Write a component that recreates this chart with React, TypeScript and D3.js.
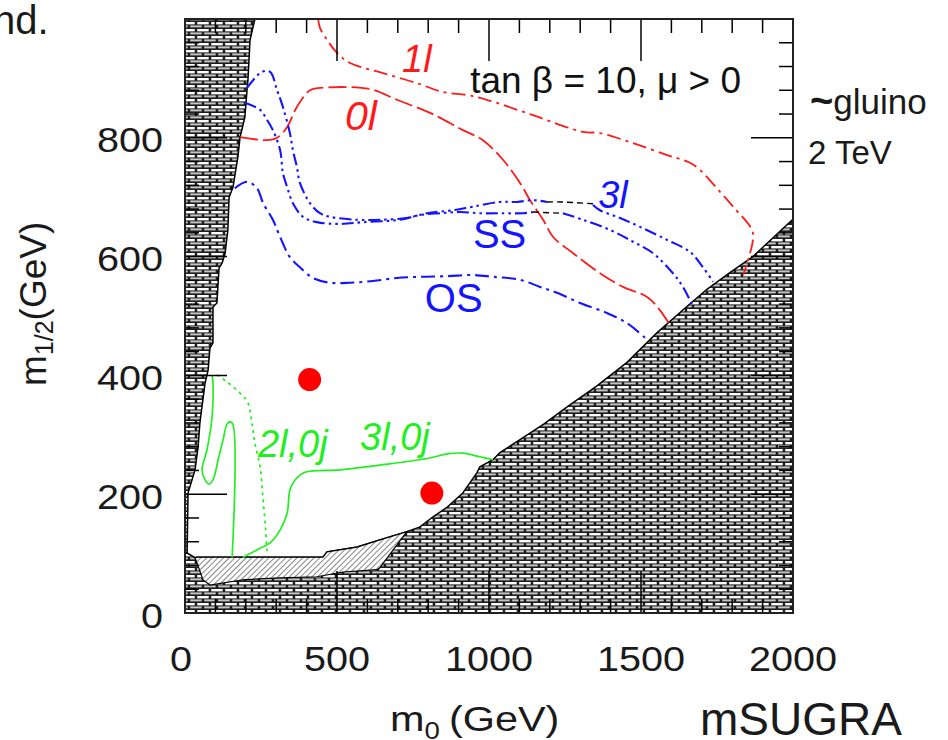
import React, { useEffect, useRef } from 'react';
import * as d3 from 'd3';

type Pt = [number, number];

// all values in GeV: [m0, m1/2]

// theoretically excluded (left strip)
const leftExcluded: Pt[] = [
  [0, 1000], [230, 1000], [214, 965], [207, 897], [204, 880], [197, 835], [181, 801],
  [174, 768], [158, 717], [145, 700], [141, 645], [132, 606], [122, 589], [112, 581],
  [105, 522], [92, 515], [92, 455], [82, 446], [76, 409], [66, 387], [49, 320],
  [43, 279], [33, 241], [10, 202], [7, 101], [0, 101],
];

// charged LSP region (bottom right) + low m1/2 band
const bottomExcluded: Pt[] = [
  [0, 0], [0, 101], [7, 101], [33, 93], [39, 94], [454, 94], [467, 103], [566, 111],
  [641, 123], [730, 137], [773, 145], [816, 162], [862, 178], [914, 202], [960, 236],
  [970, 246], [1013, 258], [1036, 270], [1102, 292], [1180, 318], [1257, 347],
  [1354, 382], [1454, 422], [1553, 472], [1651, 516], [1717, 545], [1790, 572],
  [1868, 600], [2000, 663], [2000, 0],
];

// LEP limit (diagonal hatch)
const lepHatch: Pt[] = [
  [33, 93], [39, 94], [454, 94], [467, 103], [566, 111], [641, 123], [730, 137],
  [684, 106], [641, 76], [632, 73], [520, 69], [434, 61], [313, 59], [191, 56],
  [82, 47], [59, 56], [43, 79],
];

// reach contours
const red1l: Pt[] = [
  [438, 1000], [444, 985], [467, 965], [500, 943], [543, 926], [651, 909], [763, 892],
  [849, 877], [928, 872], [993, 864], [1145, 838], [1309, 810], [1365, 808], [1474, 791],
  [1586, 771], [1661, 758], [1694, 746], [1760, 709], [1803, 684], [1865, 645],
  [1868, 628], [1849, 589], [1836, 569],
];

const red0l: Pt[] = [
  [181, 801], [270, 796], [303, 800], [336, 818], [368, 852], [411, 880], [444, 884],
  [609, 882], [697, 864], [806, 842], [914, 813], [980, 796], [1046, 763], [1102, 724],
  [1135, 695], [1178, 662], [1211, 633], [1276, 606], [1365, 572], [1441, 549],
  [1520, 532], [1562, 510], [1595, 485],
];

const blue3lA: Pt[] = [
  [204, 884], [253, 911], [280, 911], [303, 880], [322, 852], [345, 808], [355, 779],
  [368, 751], [378, 724], [411, 690], [444, 673], [477, 667], [566, 662], [641, 662],
  [730, 665], [796, 673], [882, 678], [947, 684], [1036, 692], [1092, 692], [1145, 695],
  [1191, 692],
];
const black3l: Pt[] = [[1191, 692], [1234, 692], [1342, 689]];
const blue3lB: Pt[] = [
  [1342, 687], [1365, 678], [1431, 665], [1497, 650], [1586, 628], [1661, 608],
  [1704, 582], [1737, 558],
];

const blueSSA: Pt[] = [
  [197, 859], [247, 847], [270, 830], [289, 813], [313, 779], [322, 741], [336, 717],
  [355, 690], [388, 667], [434, 658], [510, 655], [586, 658], [707, 662], [773, 670],
  [839, 673], [905, 675], [970, 673], [1036, 673], [1112, 673], [1145, 675],
];
const blackSS: Pt[] = [[1145, 675], [1243, 673]];
const blueSSB: Pt[] = [
  [1243, 673], [1309, 662], [1398, 645], [1474, 625], [1539, 606], [1605, 572],
  [1638, 549], [1668, 519],
];

const blueOS: Pt[] = [
  [164, 715], [204, 726], [237, 715], [257, 690], [289, 662], [313, 633], [345, 599],
  [378, 582], [421, 564], [477, 556], [543, 556], [618, 559], [697, 564], [773, 566],
  [862, 567], [947, 569], [1013, 566], [1102, 561], [1168, 549], [1224, 539],
  [1299, 522], [1388, 505], [1454, 488], [1520, 460],
];

const greenLeft: Pt[] = [
  [89, 401], [92, 387], [89, 330], [72, 274], [56, 241], [66, 224], [79, 217],
  [92, 224], [109, 258], [125, 291], [141, 320], [155, 320], [155, 94],
];
const green2l0j: Pt[] = [
  [105, 401], [138, 389], [181, 370], [207, 354], [220, 320], [230, 286], [247, 246],
  [257, 190], [266, 135], [270, 101],
];
const green3l0j: Pt[] = [
  [191, 94], [247, 109], [280, 118], [313, 140], [336, 168], [345, 207], [362, 224],
  [395, 237], [510, 241], [641, 249], [806, 261], [862, 268], [914, 269], [970, 263],
  [1013, 258],
];

const benchmarkPoints: Pt[] = [[410, 393], [812, 202]];

const xTickValues = [0, 500, 1000, 1500, 2000];
const yTickValues = [0, 200, 400, 600, 800];

const FONT = '"Liberation Sans", Arial, Helvetica, sans-serif';

const App = () => {
  const svgRef = useRef<SVGSVGElement | null>(null);

  const width = 948;
  const height = 740;
  const frame = { left: 185, right: 793, top: 19, bottom: 613 };

  useEffect(() => {
    if (!svgRef.current) return;
    const svg = d3.select(svgRef.current);
    svg.selectAll('*').remove();

    const x = d3.scaleLinear().domain([0, 2000]).range([frame.left, frame.right]);
    const y = d3.scaleLinear().domain([0, 1000]).range([frame.bottom, frame.top]);

    const defs = svg.append('defs');

    // brick texture of the excluded regions
    const brick = defs.append('pattern')
      .attr('id', 'brick')
      .attr('patternUnits', 'userSpaceOnUse')
      .attr('width', 14)
      .attr('height', 7);
    brick.append('rect').attr('width', 14).attr('height', 7).attr('fill', '#1c1c1c');
    brick.append('rect').attr('x', 1.2).attr('y', 1).attr('width', 11.5).attr('height', 2.4).attr('fill', '#ffffff');
    brick.append('rect').attr('x', -5.8).attr('y', 4.4).attr('width', 11.5).attr('height', 2).attr('fill', '#c4c4c4');
    brick.append('rect').attr('x', 8.2).attr('y', 4.4).attr('width', 11.5).attr('height', 2).attr('fill', '#c4c4c4');

    const hatch = defs.append('pattern')
      .attr('id', 'hatch')
      .attr('patternUnits', 'userSpaceOnUse')
      .attr('width', 4)
      .attr('height', 4)
      .attr('patternTransform', 'rotate(45)');
    hatch.append('rect').attr('width', 4).attr('height', 4).attr('fill', '#fff');
    hatch.append('line').attr('x1', 0).attr('y1', 0).attr('x2', 0).attr('y2', 4)
      .attr('stroke', '#222').attr('stroke-width', 1.1);

    defs.append('clipPath').attr('id', 'topclip')
      .append('rect').attr('x', 130).attr('y', 8).attr('width', 50).attr('height', 12);

    svg.append('rect').attr('width', width).attr('height', height).attr('fill', '#fff');

    const area = d3.line<Pt>().x(d => x(d[0])).y(d => y(d[1]));
    const curve = d3.line<Pt>().x(d => x(d[0])).y(d => y(d[1])).curve(d3.curveCatmullRom.alpha(0.5));

    const g = svg.append('g');

    // excluded regions
    g.append('path').attr('d', area(leftExcluded) + 'Z')
      .attr('fill', 'url(#brick)').attr('stroke', '#000').attr('stroke-width', 1.5);
    g.append('path').attr('d', area(bottomExcluded) + 'Z')
      .attr('fill', 'url(#brick)').attr('stroke', '#000').attr('stroke-width', 1.5);
    g.append('path').attr('d', area(lepHatch) + 'Z')
      .attr('fill', 'url(#hatch)').attr('stroke', '#000').attr('stroke-width', 1.2);

    // contours
    const contours: { pts: Pt[]; color: string; dash: string | null; w: number }[] = [
      { pts: red1l, color: '#ff1a1a', dash: '14,5,3,5', w: 1.8 },
      { pts: red0l, color: '#ff1a1a', dash: '18,5', w: 1.8 },
      { pts: blue3lA, color: '#1414ff', dash: '12,4,2.5,4,2.5,4', w: 2.1 },
      { pts: black3l, color: '#000', dash: '6,4', w: 1.4 },
      { pts: blue3lB, color: '#1414ff', dash: '12,4,2.5,4,2.5,4', w: 2.1 },
      { pts: blueSSA, color: '#1414ff', dash: '12,4,2.5,4,2.5,4', w: 2.1 },
      { pts: blackSS, color: '#000', dash: '6,4', w: 1.4 },
      { pts: blueSSB, color: '#1414ff', dash: '12,4,2.5,4,2.5,4', w: 2.1 },
      { pts: blueOS, color: '#1414ff', dash: '14,5,3,5', w: 2.1 },
      { pts: greenLeft, color: '#22ee22', dash: null, w: 1.7 },
      { pts: green2l0j, color: '#22ee22', dash: '3,4', w: 1.7 },
      { pts: green3l0j, color: '#22ee22', dash: null, w: 1.7 },
    ];
    contours.forEach(c => {
      g.append('path')
        .attr('d', curve(c.pts))
        .attr('fill', 'none')
        .attr('stroke', c.color)
        .attr('stroke-width', c.w)
        .attr('stroke-dasharray', c.dash)
        .attr('stroke-linejoin', 'round');
    });

    // benchmark points
    g.selectAll('.bench')
      .data(benchmarkPoints)
      .enter()
      .append('circle')
      .attr('class', 'bench')
      .attr('cx', d => x(d[0]))
      .attr('cy', d => y(d[1]))
      .attr('r', 11.5)
      .attr('fill', '#ff0000');

    // ticks on all four sides
    const xMinor = d3.range(0, 2001, 100);
    const yMinor = d3.range(0, 1001, 40);
    const major = 42;
    const minor = 14;
    const ticks = svg.append('g').attr('stroke', '#000').attr('stroke-width', 1.5);
    xMinor.forEach(v => {
      const len = v % 500 === 0 ? major : minor;
      ticks.append('line').attr('x1', x(v)).attr('x2', x(v)).attr('y1', frame.top).attr('y2', frame.top + len);
      ticks.append('line').attr('x1', x(v)).attr('x2', x(v)).attr('y1', frame.bottom).attr('y2', frame.bottom - len);
    });
    yMinor.forEach(v => {
      const len = v % 200 === 0 ? major : minor;
      ticks.append('line').attr('y1', y(v)).attr('y2', y(v)).attr('x1', frame.left).attr('x2', frame.left + len);
      ticks.append('line').attr('y1', y(v)).attr('y2', y(v)).attr('x1', frame.right).attr('x2', frame.right - len);
    });

    svg.append('rect')
      .attr('x', frame.left).attr('y', frame.top)
      .attr('width', frame.right - frame.left).attr('height', frame.bottom - frame.top)
      .attr('fill', 'none').attr('stroke', '#222').attr('stroke-width', 2);

    // tick labels
    const tickText = svg.append('g').attr('font-family', FONT).attr('fill', '#1a1a1a').attr('font-size', 36);
    yTickValues.forEach(v => {
      tickText.append('text')
        .attr('transform', `translate(163,${y(v) + 2}) scale(1.1,1)`)
        .attr('text-anchor', 'end')
        .attr('dy', '0.35em')
        .text(v);
    });
    xTickValues.forEach(v => {
      tickText.append('text')
        .attr('transform', `translate(${x(v) - (v === 0 ? 4 : 0)},671) scale(1.1,1)`)
        .attr('text-anchor', 'middle')
        .text(v);
    });
    // cut-off label at the very top
    tickText.append('text')
      .attr('clip-path', 'url(#topclip)')
      .attr('transform', 'translate(163,18) scale(1.1,1)')
      .attr('text-anchor', 'end')
      .text('0');

    // axis titles
    const titles = svg.append('g').attr('font-family', FONT).attr('fill', '#1a1a1a');
    const xt = titles.append('text').attr('transform', 'translate(390,731) scale(1.15,1)').attr('font-size', 36);
    xt.append('tspan').text('m');
    xt.append('tspan').attr('font-size', 24).attr('dy', 8).text('0');
    xt.append('tspan').attr('dy', -8).attr('dx', 8).text('(GeV)');

    const yt = titles.append('text').attr('transform', 'translate(46,386) rotate(-90)').attr('font-size', 37);
    yt.append('tspan').text('m');
    yt.append('tspan').attr('font-size', 25).attr('dy', 7).text('1/2');
    yt.append('tspan').attr('dy', -7).text('(GeV)');

    titles.append('text').attr('x', 700).attr('y', 735).attr('font-size', 46).text('mSUGRA');
    titles.append('text').attr('x', -7).attr('y', 34).attr('font-size', 40).text('nd.');

    const glu = titles.append('text').attr('x', 810).attr('y', 114).attr('font-size', 35);
    glu.append('tspan').attr('font-weight', 'bold').attr('font-size', 40).text('~');
    glu.append('tspan').text('gluino');
    titles.append('text').attr('x', 808).attr('y', 164).attr('font-size', 33).text('2 TeV');

    // in-plot annotations
    const ann = svg.append('g').attr('font-family', FONT);
    const label = (p: Pt, txt: string, color: string, size: number, italic: boolean) =>
      ann.append('text')
        .attr('x', x(p[0])).attr('y', y(p[1]))
        .attr('fill', color)
        .attr('font-size', size)
        .attr('font-style', italic ? 'italic' : 'normal')
        .text(txt);

    label([714, 911], '1l', '#ff1a1a', 38, true);
    label([526, 813], '0l', '#ff1a1a', 41, true);
    label([1359, 682], '3l', '#1414ff', 38, true);
    label([947, 614], 'SS', '#1414ff', 40, false);
    label([789, 507], 'OS', '#1414ff', 40, false);
    label([240, 263], '2l,0j', '#22ee22', 38, true);
    label([576, 274], '3l,0j', '#22ee22', 38, true);
    label([938, 875], 'tan β = 10, μ > 0', '#111', 37, false);
  }, []);

  return (
    <svg
      ref={svgRef}
      width={width}
      height={height}
      style={{ position: 'absolute', left: 0, top: 0, display: 'block' }}
    />
  );
};

export default App;
